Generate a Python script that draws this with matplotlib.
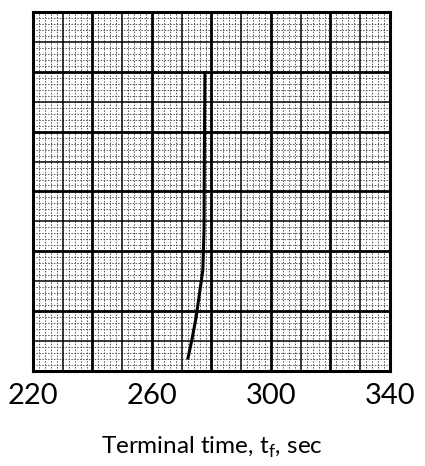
import numpy as np
import matplotlib
matplotlib.use("Agg")
import matplotlib.pyplot as plt

# Data
t_f = [272.1, 273.4, 274.8, 275.8, 277.1, 277.5, 277.6, 277.8]
y_val = [0.43, 1.04, 1.77, 2.47, 3.38, 4.72, 7.06, 9.97]
x_ticks = [220, 260, 300, 340]
x_label = "Terminal time, t$_\\mathregular{f}$, sec"

plt.rcParams['font.family'] = ['Lato', 'DejaVu Sans']

fig = plt.figure(figsize=(4.25, 4.66), dpi=100)
ax = fig.add_axes([0.0776, 0.2039, 0.84, 0.7704])
ax.set_xlim(220, 340)
ax.set_ylim(0, 12)

# minor dotted grid
for x in np.arange(220, 341, 2):
    if x % 10 != 0:
        ax.axvline(x, color='#555555', lw=0.7, ls=(0, (1.5, 1.5)), zorder=1)
for y in np.arange(0, 12.01, 0.2):
    if abs(y - round(y)) > 1e-6:
        ax.axhline(y, color='#555555', lw=0.7, ls=(0, (1.5, 1.5)), zorder=1)
# medium / major grid
for x in range(220, 341, 10):
    lw = 2.0 if (x - 220) % 20 == 0 else 1.1
    ax.axvline(x, color='black', lw=lw, zorder=2)
for y in range(0, 13):
    lw = 2.0 if y % 2 == 0 else 1.1
    ax.axhline(y, color='black', lw=lw, zorder=2)

ax.plot(t_f, y_val, color='black', lw=2.2, zorder=3)

for s in ax.spines.values():
    s.set_linewidth(2.2)
ax.set_xticks(x_ticks)
ax.set_xticklabels([str(v) for v in x_ticks], fontsize=21)
ax.tick_params(axis='x', length=0, pad=9)
ax.set_yticks([])
ax.set_xlabel(x_label, fontsize=17.5, labelpad=18)

fig.savefig("out.png", dpi=100)
